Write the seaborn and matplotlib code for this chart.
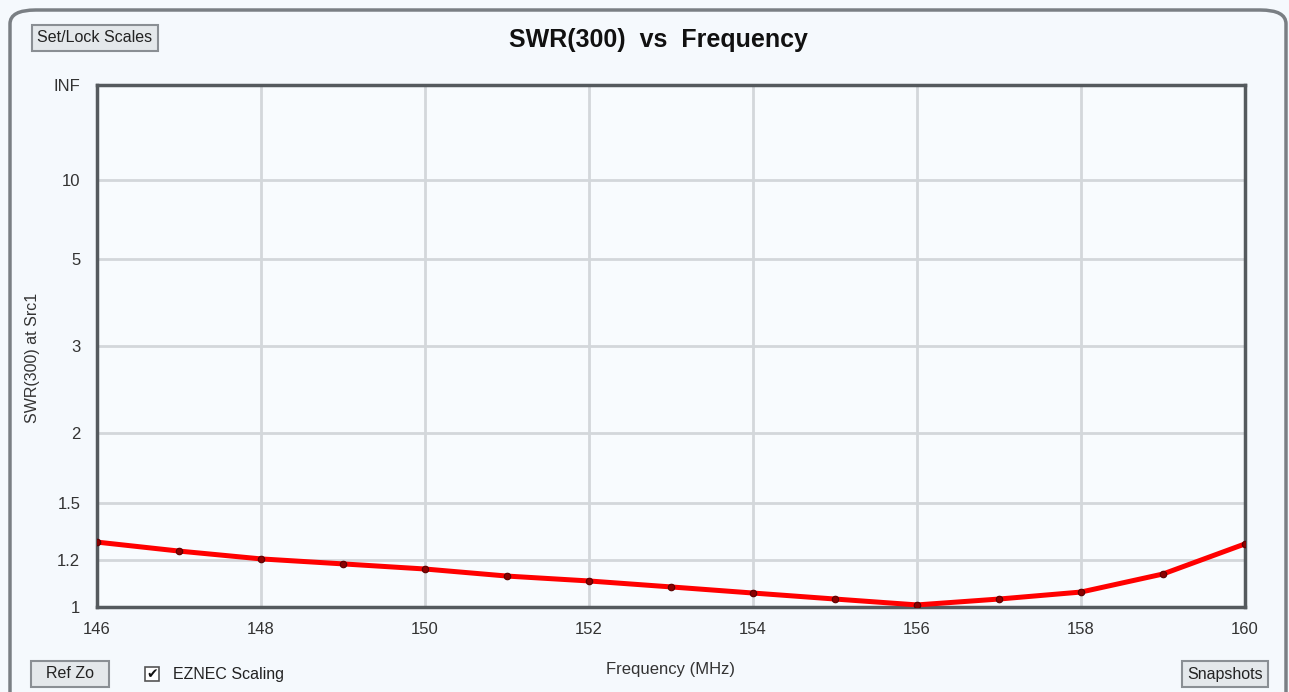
import numpy as np
import pandas as pd
import seaborn as sns
import matplotlib.pyplot as plt
from matplotlib.patches import FancyBboxPatch, Rectangle

# SWR (EZNEC plot, 300 ohm reference)
freq_mhz = [146, 147, 148, 149, 150, 151, 152, 153, 154, 155, 156, 157, 158, 159, 160]
swr = [1.284, 1.240, 1.203, 1.180, 1.157, 1.126, 1.105, 1.080, 1.055, 1.031,
       1.008, 1.031, 1.059, 1.135, 1.275]

y_ticks = [1, 1.2, 1.5, 2, 3, 5, 10, 1e12]
y_ticklabels = ['1', '1.2', '1.5', '2', '3', '5', '10', 'INF']
x_ticks = [146, 148, 150, 152, 154, 156, 158, 160]

df = pd.DataFrame({'Frequency (MHz)': freq_mhz, 'SWR': swr})


# EZNEC scaling: axis is linear in reflection coefficient
def swr_to_rho(s):
    s = np.asarray(s, dtype=float)
    return (s - 1.0) / (s + 1.0)


def rho_to_swr(g):
    g = np.clip(np.asarray(g, dtype=float), -0.999999, 1 - 1e-12)
    return (1.0 + g) / (1.0 - g)


sns.set_theme(style='white')
plt.rcParams['font.family'] = ['Liberation Sans', 'DejaVu Sans']

bg = '#f5f9fd'
fig = plt.figure(figsize=(12.89, 6.92), dpi=100, facecolor=bg)
ax = fig.add_axes([97 / 1289, 1 - 607 / 692, (1245 - 97) / 1289, (607 - 85) / 692])
ax.set_facecolor('#f8fbfe')

# outer window frame
fig.patches.append(FancyBboxPatch((10 / 1289, -0.05), 1276 / 1289, 1.05 - 10 / 692,
                                  boxstyle='round,pad=0,rounding_size=0.02',
                                  transform=fig.transFigure, facecolor='none',
                                  edgecolor='#7a7f84', linewidth=2.5, zorder=0))

ax.set_yscale('function', functions=(swr_to_rho, rho_to_swr))

sns.lineplot(data=df, x='Frequency (MHz)', y='SWR', ax=ax, color='#ff0000',
             linewidth=3.6, zorder=3)
sns.scatterplot(data=df, x='Frequency (MHz)', y='SWR', ax=ax, color='#8b0000',
                s=22, edgecolor='#5a0000', linewidth=0.8, zorder=4)

ax.set_xlim(146, 160)
ax.set_ylim(1, 1e12)
ax.set_xticks(x_ticks)
ax.set_xticklabels([str(v) for v in x_ticks])
ax.set_yticks(y_ticks)
ax.set_yticklabels(y_ticklabels)
ax.minorticks_off()

ax.grid(True, color='#d3d7db', linewidth=2)
ax.tick_params(axis='both', labelsize=12, colors='#333333', length=5, width=1.5,
               direction='out', pad=6)
ax.tick_params(axis='x', color='#d3d7db')
ax.tick_params(axis='y', length=0, pad=12)
for side in ['left', 'bottom', 'top', 'right']:
    ax.spines[side].set_color('#555a5e')
    ax.spines[side].set_linewidth(2.5)

ax.set_xlabel('Frequency (MHz)', fontsize=12, color='#333333', labelpad=18)
ax.set_ylabel('')
fig.text(33 / 1289, 1 - 358 / 692, 'SWR(300) at Src1', rotation=90, ha='center',
         va='center', fontsize=11.5, color='#333333')

fig.text(658 / 1289, 1 - 40 / 692, 'SWR(300)  vs  Frequency', ha='center', va='center',
         fontsize=18, fontweight='bold', color='#111111')

# window buttons
btn = dict(boxstyle='square,pad=0.35', facecolor='#e4e8eb', edgecolor='#8a8f94', linewidth=1.5)
fig.text(95 / 1289, 1 - 38 / 692, 'Set/Lock Scales', ha='center', va='center',
         fontsize=11.5, color='#222222', bbox=btn)
fig.text(70 / 1289, 1 - 674 / 692, '  Ref Zo  ', ha='center', va='center',
         fontsize=11.5, color='#222222', bbox=btn)
fig.text(1225 / 1289, 1 - 674 / 692, 'Snapshots', ha='center', va='center',
         fontsize=11.5, color='#222222', bbox=btn)
fig.patches.append(Rectangle((145 / 1289, 1 - 681 / 692), 14 / 1289, 14 / 692,
                             transform=fig.transFigure, facecolor='white',
                             edgecolor='#555555', linewidth=1.2))
fig.text(152 / 1289, 1 - 674 / 692, '\u2714', ha='center', va='center',
         fontsize=10, color='#111111', family='DejaVu Sans')
fig.text(173 / 1289, 1 - 674 / 692, 'EZNEC Scaling', ha='left', va='center',
         fontsize=11.5, color='#222222')

fig.savefig('out.png', dpi=100, facecolor=bg)
